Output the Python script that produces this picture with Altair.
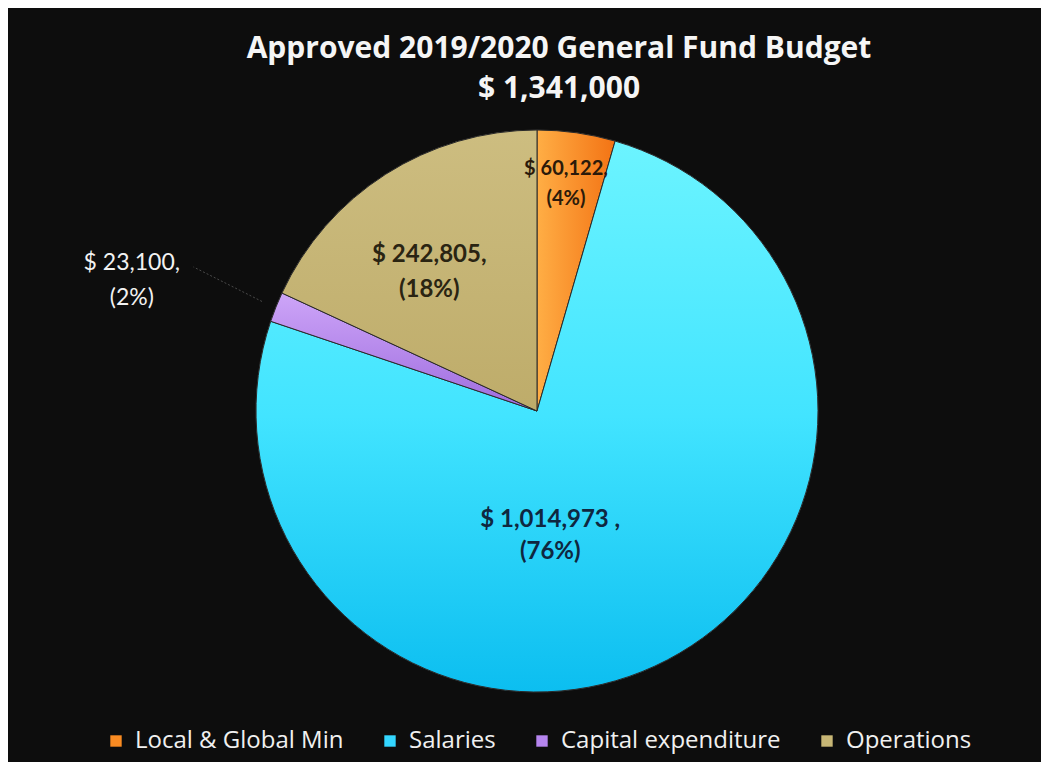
import altair as alt
import pandas as pd
import math

# ---- data ----
categories = ["Local & Global Min", "Salaries", "Capital expenditure", "Operations"]
values = [60122, 1014973, 23100, 242805]
label_line1 = ["$ 60,122,", "$ 1,014,973  ,", "$ 23,100,", "$ 242,805,"]
label_line2 = ["(4%)", "(76%)", "(2%)", "(18%)"]
total = 1341000
title_lines = ["Approved 2019/2020 General Fund Budget", "$ 1,341,000"]

solid_colors = ["#F98B22", "#33D6FF", "#B585EE", "#C7B675"]
grad_stops = [
    ["#FFAE45", "#F37314"],
    ["#6CF4FF", "#42E4FF", "#0CBEF0"],
    ["#CDA5F8", "#9E6CDE"],
    ["#CDBD80", "#BEAC6A"],
]
grad_dirs = ["h", "v", "v", "v"]

df = pd.DataFrame({
    "cat": categories,
    "value": values,
    "order": list(range(len(categories))),
    "l1": label_line1,
    "l2": label_line2,
})

CX, CY, R = 529, 403, 281
BG = "#0d0d0d"

theta_scale = alt.Scale(domain=[0, total], range=[0, 2 * math.pi])

base = alt.Chart(df).transform_window(
    cum="sum(value)", sort=[alt.SortField("order")]
).transform_calculate(
    start="datum.cum - datum.value",
    mid="datum.cum - datum.value/2",
    label="[datum.l1, datum.l2]",
)

legend_layer = base.mark_arc(radius=R, stroke="#2a2a2a", strokeWidth=1).encode(
    x=alt.value(CX), y=alt.value(CY),
    theta=alt.Theta("start:Q", scale=theta_scale),
    theta2="cum:Q",
    color=alt.Color(
        "cat:N",
        scale=alt.Scale(domain=categories, range=solid_colors),
        legend=alt.Legend(
            orient="none", direction="horizontal", legendX=96, legendY=721,
            title=None, labelColor="#f0f0f0", labelFont="Open Sans", labelFontSize=24,
            symbolType="square", symbolSize=130, symbolStrokeWidth=0,
            columnPadding=34, labelOffset=7, labelLimit=400,
        ),
        sort=categories,
    ),
)

layers = [legend_layer]
for i, c in enumerate(categories):
    stops = grad_stops[i]
    n = len(stops)
    gstops = [alt.GradientStop(color=s, offset=k / (n - 1)) for k, s in enumerate(stops)]
    if grad_dirs[i] == "h":
        g = alt.LinearGradient(gradient="linear", stops=gstops, x1=0, x2=1, y1=0, y2=0)
    else:
        g = alt.LinearGradient(gradient="linear", stops=gstops, x1=0, x2=0, y1=0, y2=1)
    layers.append(
        base.transform_filter(alt.datum.cat == c).mark_arc(
            radius=R, color=g, stroke="#2a2a2a", strokeWidth=1
        ).encode(
            x=alt.value(CX), y=alt.value(CY),
            theta=alt.Theta("start:Q", scale=theta_scale),
            theta2="cum:Q",
        )
    )

# labels: (radius, dx, dy, fontsize, color, weight, lineHeight)
label_style = {
    "Local & Global Min": (228, -3, -16, 20, "#2b1a0a", "bold", 30),
    "Salaries": (130, -47, -6, 24, "#0f2740", "bold", 32),
    "Capital expenditure": (420, -15, 7, 23, "#f2f2f2", "normal", 35),
    "Operations": (174, -14, -9, 24, "#2a2412", "bold", 35),
}
for c, (rad, dx, dy, fs, col, fw, lh) in label_style.items():
    layers.append(
        base.transform_filter(alt.datum.cat == c).mark_text(
            font="Lato", fontSize=fs, fontWeight=fw, color=col, dx=dx, dy=dy,
            lineHeight=lh, align="center", baseline="middle",
        ).encode(
            x=alt.value(CX), y=alt.value(CY),
            theta=alt.Theta("mid:Q", scale=theta_scale),
            radius=alt.value(rad),
            text="label:N",
        )
    )

# leader line for the small slice
leader = base.transform_filter(alt.datum.cat == "Capital expenditure").transform_calculate(
    ang=f"2*PI*datum.mid/{total}",
).transform_calculate(
    xa=f"{CX} + {R + 15}*sin(datum.ang)",
    ya=f"{CY} - {R + 15}*cos(datum.ang)",
    xb=f"{CX} + 373*sin(datum.ang) + 3",
    yb=f"{CY} - 373*cos(datum.ang) - 6",
).mark_rule(color="#4a4a4a", strokeWidth=1, strokeDash=[2, 2]).encode(
    x=alt.X("xa:Q", scale=None), y=alt.Y("ya:Q", scale=None),
    x2="xb:Q", y2="yb:Q",
)
layers.append(leader)

# title lines as text marks
title1 = alt.Chart().mark_text(
    text=title_lines[0], font="Open Sans", fontSize=30, fontWeight="bold",
    color="#f5f5f5", align="center", baseline="middle",
).encode(x=alt.value(551), y=alt.value(41))
title2 = alt.Chart().mark_text(
    text=title_lines[1], font="Open Sans", fontSize=30, fontWeight="bold",
    color="#f5f5f5", align="center", baseline="middle",
).encode(x=alt.value(551), y=alt.value(81))
layers += [title1, title2]

chart = alt.layer(*layers).properties(
    width=1033, height=754,
    background=BG,
    padding=0,
    autosize="none",
).configure_view(stroke=None)

chart.save("out.html", embed_options={"renderer": "svg", "actions": False})
